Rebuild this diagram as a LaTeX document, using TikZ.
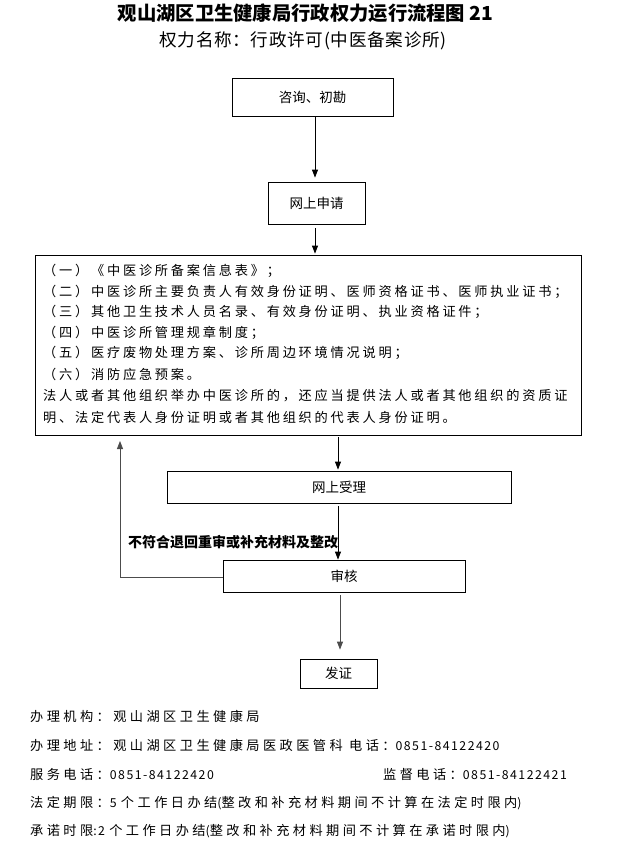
\documentclass[tikz,border=0pt]{standalone}
\usepackage{fontspec}
\setmainfont{Noto Sans CJK SC}
\newfontfamily\bodyf[LetterSpace=21]{Noto Sans CJK SC}
\newfontfamily\footf[LetterSpace=26]{Noto Sans CJK SC}
\newfontfamily\digf[LetterSpace=12]{Noto Sans CJK SC}
\newfontfamily\subf[LetterSpace=4]{Noto Sans CJK SC}
\newfontfamily\boxf{Noto Sans CJK SC}
\newcommand{\dg}[1]{{\digf\fontsize{12.3}{15}\selectfont #1}}
\usetikzlibrary{arrows.meta}
\tikzset{
  stepbox/.style={draw, line width=0.8pt, inner sep=0pt, font=\boxf\fontsize{13.5}{15}\selectfont},
  flowarrow/.style={draw, line width=0.8pt, -{Triangle[width=6pt,length=8pt]}},
  bodytxt/.style={anchor=west, inner sep=0pt, font=\bodyf\fontsize{13.2}{15}\selectfont},
  foottxt/.style={anchor=west, inner sep=0pt, font=\footf\fontsize{13.2}{15}\selectfont}
}
\begin{document}
\begin{tikzpicture}[x=1pt,y=-1pt]
\useasboundingbox (0,0) rectangle (617,851);
% titles
\node[inner sep=0pt, font=\bfseries\fontsize{19.3}{21}\selectfont] (title) at (305.5,13) {观山湖区卫生健康局行政权力运行流程图 21};
\node[inner sep=0pt, font=\subf\fontsize{17.6}{19}\selectfont] (subtitle) at (303,41) {权力名称：行政许可(中医备案诊所)};
% boxes
\node[stepbox, minimum width=161pt, minimum height=38pt] (b1) at (312.5,97) {咨询、初勘};
\node[stepbox, minimum width=97pt, minimum height=42pt] (b2) at (316.5,203) {网上申请};
\node[stepbox, minimum width=546pt, minimum height=180pt] (b3) at (308,345) {};
\node[stepbox, minimum width=344pt, minimum height=32pt] (b4) at (339,487) {网上受理};
\node[stepbox, minimum width=242pt, minimum height=32pt] (b5) at (344,576) {审核};
\node[stepbox, minimum width=77pt, minimum height=29pt] (b6) at (338.5,673.5) {发证};
% text in big box
\node[bodytxt] (l1) at (43,271) {（一）《中医诊所备案信息表》；};
\node[bodytxt] (l2) at (43,291.5) {（二）中医诊所主要负责人有效身份证明、医师资格证书、医师执业证书；};
\node[bodytxt] (l3) at (43,312) {（三）其他卫生技术人员名录、有效身份证明、执业资格证件；};
\node[bodytxt] (l4) at (43,332.5) {（四）中医诊所管理规章制度；};
\node[bodytxt] (l5) at (43,353) {（五）医疗废物处理方案、诊所周边环境情况说明；};
\node[bodytxt] (l6) at (43,374) {（六）消防应急预案。};
\node[bodytxt] (l7) at (43,396) {法人或者其他组织举办中医诊所的，还应当提供法人或者其他组织的资质证};
\node[bodytxt] (l8) at (43,417) {明、法定代表人身份证明或者其他组织的代表人身份证明。};
% arrows
\draw[flowarrow] (b1.south -| 315,0) -- ([yshift=4pt]b2.north -| 315,0);
\draw[flowarrow] ([yshift=-4pt]b2.south -| 315,0) -- ([yshift=1pt]b3.north -| 315,0);
\draw[flowarrow] ([yshift=-2pt]b3.south -| 338,0) -- ([yshift=1pt]b4.north -| 338,0);
\draw[flowarrow] ([yshift=-3pt]b4.south -| 338,0) -- (b5.north -| 338,0);
\draw[flowarrow, draw=black!70] ([yshift=-3pt]b5.south -| 340,0) -- ([yshift=9pt]b6.north -| 340,0);
\coordinate (fbcorner) at (120,577);
\coordinate (fbend) at (120,441);
\draw[flowarrow, draw=black!70] (b5.west |- fbcorner) -- (fbcorner) -- (fbend);
\node[anchor=west, inner sep=0pt, font=\bfseries\fontsize{14}{16}\selectfont] (fblabel) at (128,542) {不符合退回重审或补充材料及整改};
% footer
\node[foottxt] (f1) at (30,716) {办理机构：观山湖区卫生健康局};
\node[foottxt] (f2) at (30,745.5) {办理地址：观山湖区卫生健康局医政医管科 电话：\dg{0851-84122420}};
\node[foottxt] (f3) at (30,774) {服务电话：\dg{0851-84122420}};
\node[foottxt] (f3b) at (383,774) {监督电话：\dg{0851-84122421}};
\node[foottxt] (f4) at (30,803) {法定期限：\dg{5 }个工作日办结\dg{(}整改和补充材料期间不计算在法定时限内\dg{)}};
\node[foottxt] (f5) at (30,831) {承诺时限\dg{:2 }个工作日办结\dg{(}整改和补充材料期间不计算在承诺时限内\dg{)}};
\end{tikzpicture}
\end{document}
